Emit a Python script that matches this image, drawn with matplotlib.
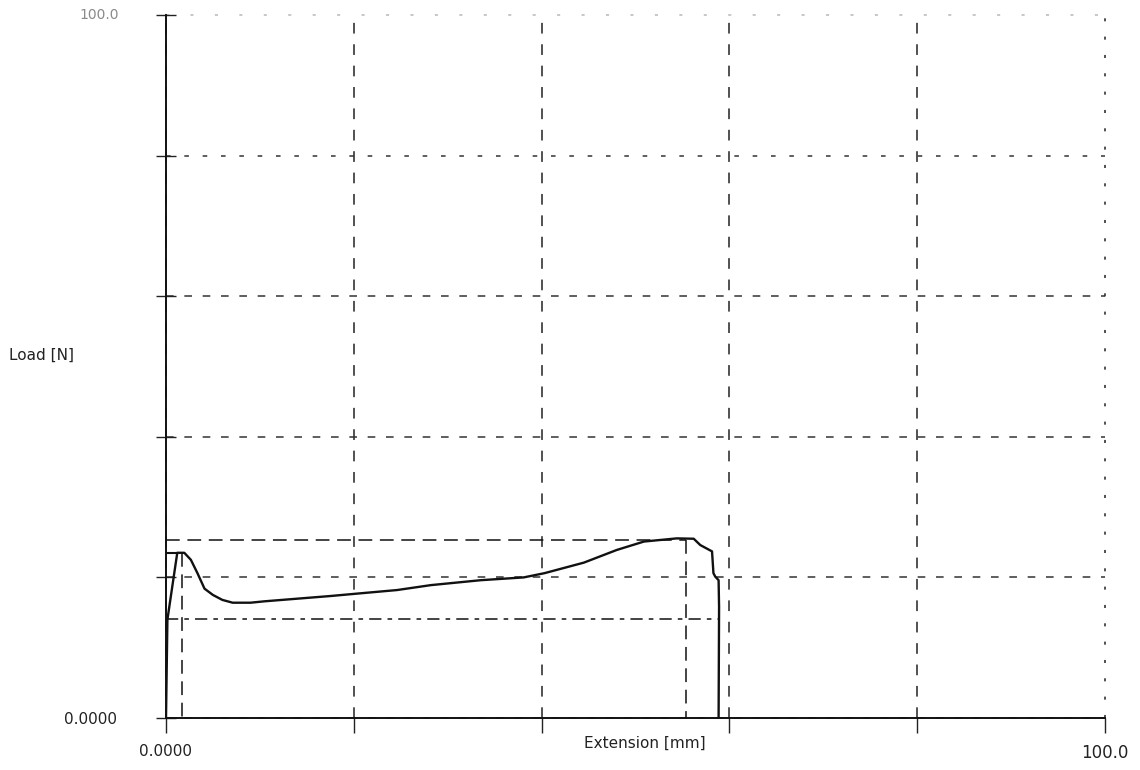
import matplotlib
matplotlib.use("Agg")
import matplotlib.pyplot as plt

# Load-extension trace
extension_mm = [0.0, 0.15, 1.2, 1.95, 2.65, 3.35, 4.1, 5.0, 6.0, 7.1, 9.0, 10.5,
                17.5, 20.4, 24.6, 28.2, 33.5, 38.1, 40.3, 44.5, 48.0, 50.9, 54.4,
                56.2, 56.9, 58.15, 58.3, 58.5, 58.85, 58.9, 58.85]
load_n = [0.0, 14.0, 23.5, 23.5, 22.5, 20.6, 18.4, 17.5, 16.8, 16.4, 16.4, 16.6,
          17.35, 17.7, 18.2, 18.9, 19.6, 20.0, 20.6, 22.1, 23.9, 25.1, 25.55,
          25.5, 24.6, 23.7, 20.6, 20.1, 19.6, 15.8, 0.0]

# Reference markers
first_peak_ext = 1.75
first_peak_load = 23.5
max_ext = 55.4
max_load = 25.3
break_ext = 58.9
lower_load = 14.1

x_ticks = [0, 20, 40, 60, 80, 100]
x_tick_labels = ["0.0000", "", "", "", "", "100.0"]
y_ticks = [0, 20, 40, 60, 80, 100]
y_tick_labels = ["0.0000", "", "", "", "", ""]
y_max_label = "100.0"

fig = plt.figure(figsize=(11.4, 7.7), dpi=100)
ax = fig.add_axes([166 / 1140, 1 - 718 / 770, (1105 - 166) / 1140, (718 - 15) / 770])
ax.set_xlim(0, 100)
ax.set_ylim(0, 100)

ax.set_xticks(x_ticks)
ax.set_xticklabels(x_tick_labels)
ax.set_yticks(y_ticks)
ax.set_yticklabels(y_tick_labels)

for s in ["top", "right"]:
    ax.spines[s].set_visible(False)
for s in ["left", "bottom"]:
    ax.spines[s].set_linewidth(1.4)
    ax.spines[s].set_color("#111111")

ax.xaxis.grid(True, color="#222222", linewidth=1.1, linestyle=(0, (7, 7)))
ax.yaxis.grid(True, color="#333333", linewidth=1.1, linestyle=(0, (5, 7)))
ax.set_axisbelow(True)
for gl in ax.get_xgridlines() + ax.get_ygridlines():
    gl.set_clip_on(False)
ax.get_ygridlines()[-1].set_alpha(0.35)
ax.get_ygridlines()[-1].set_linestyle((0, (2, 14)))
ax.get_xgridlines()[-1].set_linestyle((0, (2, 10)))
ax.get_ygridlines()[-2].set_linestyle((0, (3, 9)))

ax.tick_params(axis="x", direction="out", length=11, width=1.0, color="#222222",
               pad=8, labelsize=11, labelcolor="#222222")
ax.tick_params(axis="y", direction="inout", length=14, width=1.0, color="#222222",
               pad=28, labelsize=11, labelcolor="#222222")
ax.get_xticklabels()[-1].set_fontsize(12)

# annotation lines
dash = (0, (8, 4, 3, 4))
ax.plot([0, max_ext], [max_load, max_load], color="#111111", lw=1.1, linestyle=(0, (9, 5)))
ax.plot([max_ext, max_ext], [max_load, 0], color="#111111", lw=1.1, linestyle=(0, (9, 5)))
ax.plot([0, break_ext], [lower_load, lower_load], color="#111111", lw=1.1, linestyle=dash)
ax.plot([first_peak_ext, first_peak_ext], [first_peak_load, 0], color="#111111", lw=1.1,
        linestyle=(0, (9, 5)))
ax.plot([0, extension_mm[2]], [first_peak_load, first_peak_load], color="#111111", lw=1.5)

# main curve
ax.plot(extension_mm, load_n, color="#111111", lw=1.7, solid_joinstyle="round")

ax.set_xlabel("Extension [mm]", fontsize=11, color="#222222")
ax.xaxis.set_label_coords(0.51, -0.025)
ax.set_ylabel("Load [N]", fontsize=11, color="#222222", rotation=0,
              ha="left", va="center")
ax.yaxis.set_label_coords(-0.167, 0.516)

ax.text(-0.092, 1.0, y_max_label, transform=ax.transAxes, fontsize=10,
        color="#8a8a8a", ha="left", va="center")

fig.savefig("out.png", dpi=100)
